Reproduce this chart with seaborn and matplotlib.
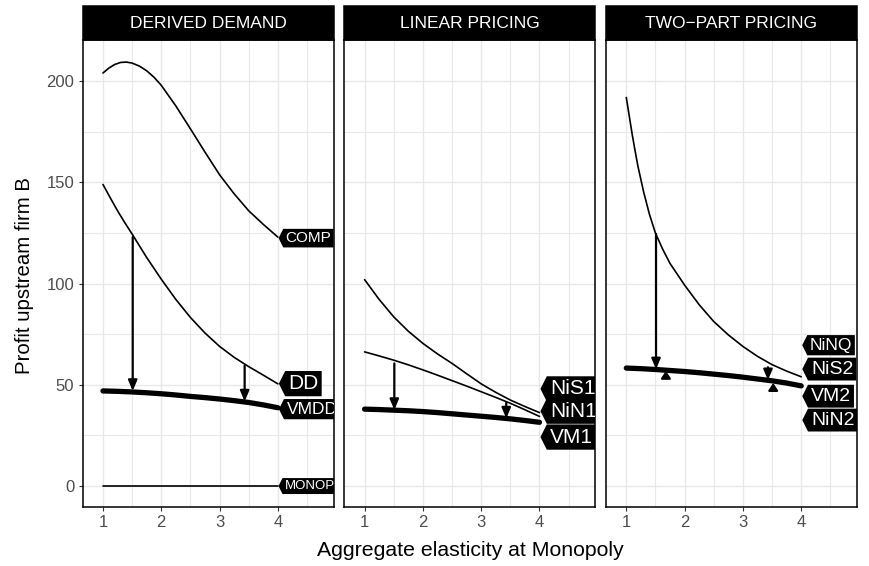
import matplotlib
matplotlib.use("Agg")
import matplotlib.pyplot as plt
from matplotlib.path import Path
from matplotlib.patches import Rectangle
import seaborn as sns
import pandas as pd

# ---------------- data ----------------
elasticity = [1, 1.25, 1.5, 1.75, 2, 2.25, 2.5, 2.75, 3, 3.25, 3.5, 3.75, 4]

elasticity_comp = [1, 1.1, 1.2, 1.3, 1.4, 1.5, 1.625, 1.75, 1.875, 2, 2.25,
                   2.5, 2.75, 3, 3.25, 3.5, 3.75, 4]
comp = [204.1, 206.5, 208.3, 209.3, 209.5, 209.0, 207.5, 205.2, 202.0, 198,
        187.8, 176.5, 165, 153.8, 144.4, 136, 129.3, 123]

elasticity_dd = [1, 1.125, 1.25, 1.375, 1.5, 1.75, 2, 2.25, 2.5, 2.75, 3,
                 3.25, 3.5, 3.75, 4]
dd = [149, 142.4, 136, 130.1, 124.5, 112.9, 102.2, 92.2, 83.3, 75.6, 69,
      63.6, 59, 54.8, 50.5]
vmdd = [47, 46.8, 46.5, 46.1, 45.6, 45.0, 44.3, 43.7, 43.0, 42.2, 41.3, 40.1, 38.7]
monop = [0, 0, 0, 0, 0, 0, 0, 0, 0, 0, 0, 0, 0]

nis1 = [102, 92.2, 83.6, 76.5, 70.5, 65.3, 60.6, 55.5, 50.5, 46.3, 42.5, 39.3, 36.3]
nin1 = [66.3, 64.3, 62.2, 59.9, 57.4, 54.8, 52.1, 49.4, 46.6, 43.8, 40.9, 37.7, 34.4]
vm1 = [38, 37.8, 37.5, 37.2, 36.8, 36.3, 35.7, 35.1, 34.5, 33.9, 33.2, 32.4, 31.5]

elasticity_ninq = [1, 1.05, 1.1, 1.15, 1.2, 1.3, 1.4, 1.5, 1.625, 1.75, 2,
                   2.25, 2.5, 2.75, 3, 3.25, 3.5, 3.75, 4]
ninq = [192, 183, 174, 165.8, 158, 145, 134, 125, 117, 110, 99.3, 89.6, 81.3,
        74.7, 69, 64.1, 60, 56.8, 54]
vm2 = [58.3, 58, 57.6, 57.1, 56.6, 56, 55.3, 54.6, 53.8, 52.9, 52, 50.9, 49.5]

panel_titles = ["DERIVED DEMAND", "LINEAR PRICING", "TWO\u2212PART PRICING"]

# arrows: (x, from, to) per panel
arrow_x = [1.51, 3.43]
arrows_from = [[123, 59.5], [60.6, 41.4], [124.5, 58.7]]
arrows_to = [[47.0, 41.8], [37.6, 33.4], [57.7, 52.3]]
small_arrow_x = [1.68, 3.52]
small_arrow_from = [53.3, 47.3]
small_arrow_to = [56.9, 50.9]

# line labels per panel
label_text = [["COMP", "DD", "VMDD", "MONOP"],
              ["NiS1", "NiN1", "VM1"],
              ["NiNQ", "NiS2", "VM2", "NiN2"]]

# ---------------- layout / style ----------------
label_pos_y = [[122.5, 50.6, 38, 0],
               [48, 37, 24.2],
               [69.6, 57.8, 44.4, 32.6]]
label_size = [[11, 15, 12.5, 9.5],
              [15, 15, 15],
              [12.5, 14, 14, 14]]
label_tip_x = 4.0

thin_lw = 1.2
thick_lw = 3.8

sns.set_theme(style="white")
plt.rcParams["font.family"] = ["Liberation Sans", "DejaVu Sans"]

W, H = 869, 566
fig = plt.figure(figsize=(W / 100, H / 100), dpi=100)

panel_left_px = [82.7, 344.3, 606.0]
panel_w_px = 250.8
panel_top_px = 40.0
panel_bot_px = 506.7
strip_h_px = 34.0

xlim = (0.652, 4.954)
ylim = (-10.2, 220.4)


def tag_box(x0, y0, width, height, mutation_size):
    ph = 0.15 * mutation_size
    pv = 0.15 * mutation_size
    l = x0 - ph
    r = x0 + width + ph
    b = y0 - pv
    t = y0 + height + pv
    d = 0.25 * (t - b)
    verts = [(l, b), (r, b), (r, t), (l, t), (l - d, (b + t) / 2), (l, b)]
    return Path(verts, closed=True)


def draw_tag(ax, y, text, fs):
    off = 0.5 * fs
    ax.annotate(text, xy=(label_tip_x, y), xytext=(off, 0),
                textcoords="offset points", ha="left", va="center",
                color="white", fontsize=fs,
                bbox=dict(boxstyle=tag_box, fc="black", ec="black", lw=0),
                clip_on=True, annotation_clip=False, zorder=6)


def draw_arrow(ax, x, y0, y1, hl=0.45, hw=0.19, lw=1.6):
    ax.annotate("", xy=(x, y1), xytext=(x, y0),
                arrowprops=dict(arrowstyle=f"-|>,head_length={hl},head_width={hw}",
                                lw=lw, color="black", shrinkA=0, shrinkB=0,
                                mutation_scale=14),
                zorder=5)


panel_series = [
    [(elasticity_comp, comp, thin_lw), (elasticity_dd, dd, thin_lw),
     (elasticity, vmdd, thick_lw), (elasticity, monop, thin_lw)],
    [(elasticity, nis1, thin_lw), (elasticity, nin1, thin_lw),
     (elasticity, vm1, thick_lw)],
    [(elasticity_ninq, ninq, thin_lw), (elasticity, vm2, thick_lw)],
]

for i in range(3):
    ax = fig.add_axes([panel_left_px[i] / W, 1 - panel_bot_px / H,
                       panel_w_px / W, (panel_bot_px - panel_top_px) / H])
    ax.set_facecolor("white")
    for xs, ys, lw in panel_series[i]:
        df = pd.DataFrame({"x": xs, "y": ys})
        sns.lineplot(data=df, x="x", y="y", ax=ax, color="black",
                     linewidth=lw, estimator=None, sort=False, zorder=3)
    for k in range(2):
        draw_arrow(ax, arrow_x[k], arrows_from[i][k], arrows_to[i][k])
    if i == 2:
        for k in range(2):
            draw_arrow(ax, small_arrow_x[k], small_arrow_from[k],
                       small_arrow_to[k], hl=0.3, hw=0.2)
    for txt, yy, fs in zip(label_text[i], label_pos_y[i], label_size[i]):
        draw_tag(ax, yy, txt, fs)

    ax.set_xlim(*xlim)
    ax.set_ylim(*ylim)
    ax.set_xticks([1, 2, 3, 4])
    ax.set_xticks([1.5, 2.5, 3.5, 4.5], minor=True)
    ax.set_yticks([0, 50, 100, 150, 200])
    ax.set_yticks([25, 75, 125, 175], minor=True)
    ax.grid(which="major", color="#E8E8E8", lw=1.0)
    ax.grid(which="minor", color="#E8E8E8", lw=0.8)
    ax.set_axisbelow(True)
    ax.set_xlabel("")
    ax.set_ylabel("")
    for s in ax.spines.values():
        s.set_color("black")
        s.set_linewidth(1.1)
        s.set_visible(True)
    ax.tick_params(axis="both", which="major", length=3, width=0.8,
                   color="#333333", labelcolor="#4D4D4D", labelsize=12, pad=3,
                   bottom=True, left=True)
    ax.tick_params(which="minor", length=0)
    if i > 0:
        ax.tick_params(axis="y", left=False, labelleft=False)

    # strip
    sh = strip_h_px / (panel_bot_px - panel_top_px)
    ax.add_patch(Rectangle((0, 1.0), 1, sh, transform=ax.transAxes,
                           clip_on=False, facecolor="black", edgecolor="black",
                           lw=1.1, zorder=10))
    ax.text(0.5, 1 + sh / 2, panel_titles[i], transform=ax.transAxes,
            ha="center", va="center", color="white", fontsize=12.5, zorder=11)

fig.text(470 / W, 1 - 551 / H, "Aggregate elasticity at Monopoly",
         ha="center", va="center", fontsize=15.3, color="black")
fig.text(25 / W, 1 - 275 / H, "Profit upstream firm B", rotation=90,
         ha="center", va="center", fontsize=14.7, color="black")

fig.savefig("out.png", dpi=100)
